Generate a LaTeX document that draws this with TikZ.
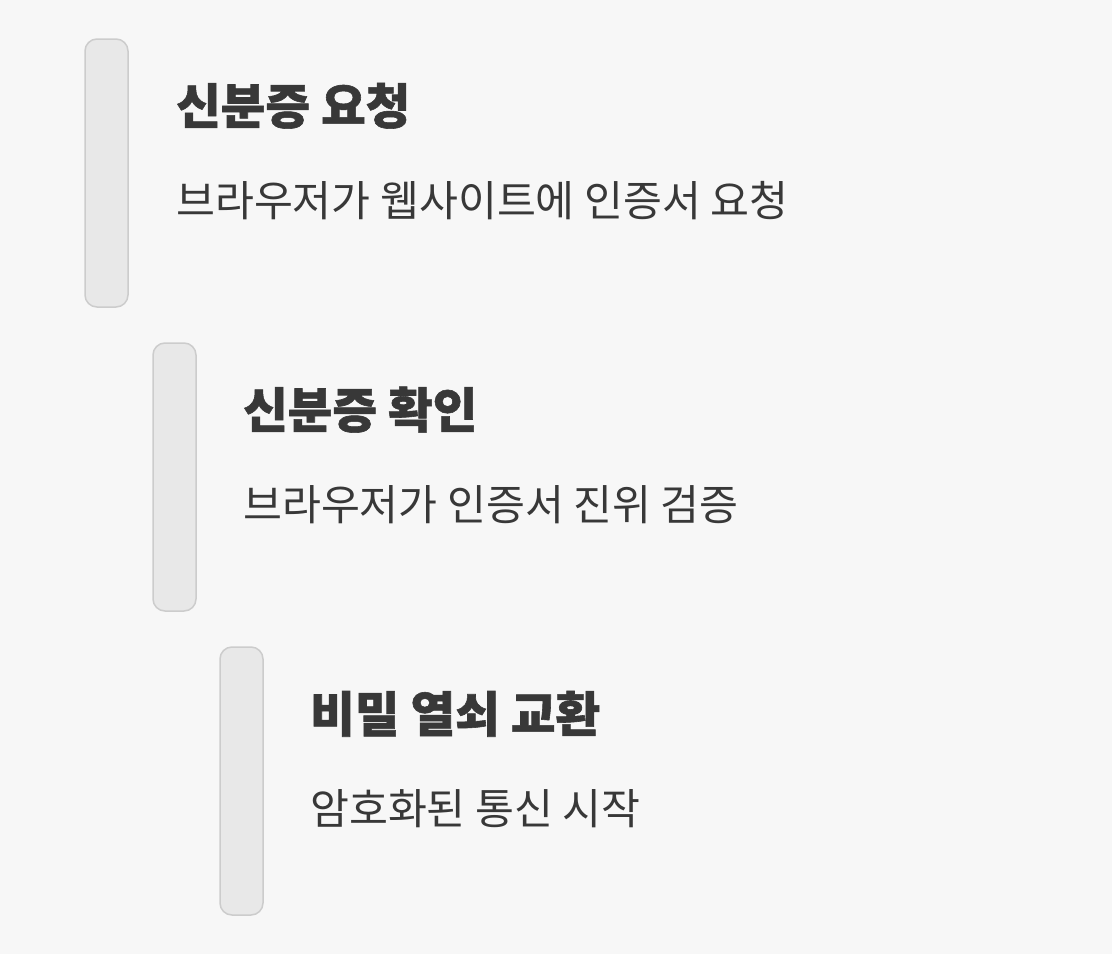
\documentclass[tikz,border=0pt]{standalone}
\usepackage{fontspec}
\usepackage{tikz}
\usepackage{xcolor}
\newfontfamily\krfont{Noto Sans CJK KR}
\newfontfamily\krbold[FakeBold=1.2]{Noto Sans CJK KR Black}
\definecolor{pagebg}{HTML}{F7F7F7}
\definecolor{barfill}{HTML}{E8E8E8}
\definecolor{barline}{HTML}{CCCCCC}
\definecolor{inktext}{HTML}{383838}
\tikzstyle{stepbar} = [rectangle, rounded corners=12pt, fill=barfill, draw=barline,
line width=1.5pt, minimum width=43pt, minimum height=268pt, inner sep=0pt]
\tikzstyle{steptitle} = [anchor=base west, inner sep=0pt, text=inktext,
font=\krbold\fontsize{48.5}{48.5}\selectfont]
\tikzstyle{stepsub} = [anchor=base west, inner sep=0pt, text=inktext,
font=\krfont\fontsize{42.3}{42.3}\selectfont]

\begin{document}
\begin{tikzpicture}[x=1pt, y=1pt]

\fill[pagebg] (0,0) rectangle (1112,-954);
\useasboundingbox (0,0) rectangle (1112,-954);

\node[stepbar] (bar1) at (106.5,-173) {};
\node[stepbar] (bar2) at (174.5,-477) {};
\node[stepbar] (bar3) at (241.5,-781) {};

\node[steptitle] (title1) at (176,-124) {신분증 요청};
\node[stepsub] (sub1) at ([yshift=-92pt]title1.base west) {브라우저가 웹사이트에 인증서 요청};

\node[steptitle] (title2) at (243,-428) {신분증 확인};
\node[stepsub] (sub2) at ([yshift=-92pt]title2.base west) {브라우저가 인증서 진위 검증};

\node[steptitle] (title3) at (310,-732) {비밀 열쇠 교환};
\node[stepsub] (sub3) at ([yshift=-92pt]title3.base west) {암호화된 통신 시작};

\end{tikzpicture}
\end{document}
